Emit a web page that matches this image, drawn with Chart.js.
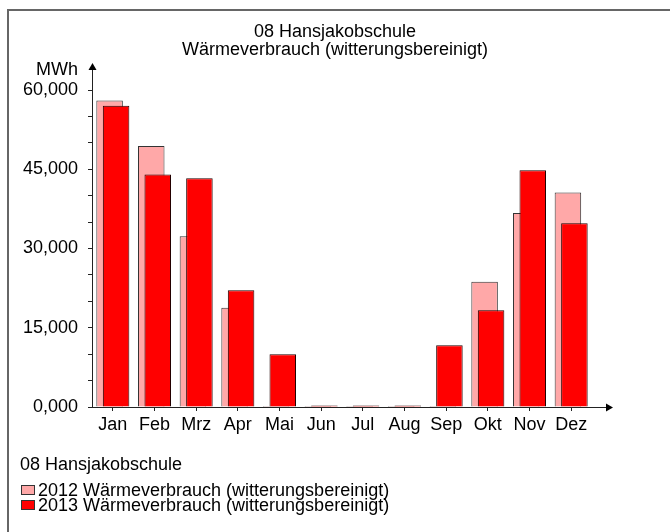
<!DOCTYPE html>
<html>
<head>
<meta charset="utf-8">
<script src="https://cdn.jsdelivr.net/npm/chart.js@4/dist/chart.umd.min.js"></script>
<style>
  html, body { margin: 0; padding: 0; background: #fff; }
  #wrap { width: 670px; height: 532px; }
</style>
</head>
<body>
<div id="wrap"><canvas id="chart" width="670" height="532"></canvas></div>
<script>
const months = ['Jan', 'Feb', 'Mrz', 'Apr', 'Mai', 'Jun', 'Jul', 'Aug', 'Sep', 'Okt', 'Nov', 'Dez'];
const heat2012 = [58.0, 49.4, 32.3, 18.8, 0.2, 0.2, 0.2, 0.2, 0.2, 23.7, 36.7, 40.6];
const heat2013 = [57.0, 44.0, 43.3, 22.1, 10.0, 0.3, 0.3, 0.3, 11.7, 18.3, 44.8, 34.8];
const yTickLabels = [0, 15, 30, 45, 60];
const titleLines = ['08 Hansjakobschule', 'Wärmeverbrauch (witterungsbereinigt)'];
const legendTitle = '08 Hansjakobschule';
const seriesNames = ['2012 Wärmeverbrauch (witterungsbereinigt)', '2013 Wärmeverbrauch (witterungsbereinigt)'];
const unitLabel = 'MWh';

const FONT = "'Liberation Sans', Arial, sans-serif";

// format like the original: 15,000 (German decimal comma, 3 places)
function fmt(v) {
    return v.toFixed(3).replace('.', ',');
}

// draw 2012 underneath 2013, but keep 2012 on the left of the group
const drawOrder = {
    id: 'drawOrder',
    beforeDatasetsDraw(chart) {
        chart.data.datasets.forEach((ds, i) => {
            const meta = chart.getDatasetMeta(i);
            if (!meta.hidden) meta.controller.draw();
        });
        return false;
    }
};

const decorations = {
    id: 'decorations',
    beforeDraw(chart) {
        const ctx = chart.ctx;
        ctx.save();
        ctx.fillStyle = '#fff';
        ctx.fillRect(0, 0, chart.width, chart.height);
        // frame (only top and left are in the picture)
        ctx.strokeStyle = '#666';
        ctx.lineWidth = 2;
        ctx.beginPath();
        ctx.moveTo(8, chart.height);
        ctx.lineTo(8, 10);
        ctx.lineTo(chart.width, 10);
        ctx.stroke();
        ctx.restore();
    },
    afterDraw(chart) {
        const ctx = chart.ctx;
        const a = chart.chartArea;
        ctx.save();
        ctx.strokeStyle = '#222';
        ctx.fillStyle = '#000';
        ctx.lineWidth = 1;

        // y axis with arrow
        const yTop = a.top - 26;
        ctx.beginPath();
        ctx.moveTo(a.left + 0.5, a.bottom);
        ctx.lineTo(a.left + 0.5, yTop + 4);
        ctx.stroke();
        ctx.beginPath();
        ctx.moveTo(a.left + 0.5, yTop - 1);
        ctx.lineTo(a.left - 3.5, yTop + 6);
        ctx.lineTo(a.left + 4.5, yTop + 6);
        ctx.closePath();
        ctx.fill();

        // x axis with arrow
        const xEnd = a.right + 20;
        ctx.beginPath();
        ctx.moveTo(a.left, a.bottom + 0.5);
        ctx.lineTo(xEnd - 4, a.bottom + 0.5);
        ctx.stroke();
        ctx.beginPath();
        ctx.moveTo(xEnd + 1, a.bottom + 0.5);
        ctx.lineTo(xEnd - 6, a.bottom - 3.5);
        ctx.lineTo(xEnd - 6, a.bottom + 4.5);
        ctx.closePath();
        ctx.fill();

        // unit
        ctx.font = '18px ' + FONT;
        ctx.textAlign = 'right';
        ctx.textBaseline = 'middle';
        ctx.fillText(unitLabel, a.left - 14, a.top - 20);

        // legend
        ctx.textAlign = 'left';
        ctx.fillText(legendTitle, 20, 465);
        chart.data.datasets.forEach((ds, i) => {
            const y = 485 + i * 15;
            ctx.fillStyle = ds.backgroundColor;
            ctx.fillRect(21, y, 14, 10);
            ctx.strokeStyle = '#333';
            ctx.strokeRect(21.5, y + 0.5, 13, 9);
            ctx.fillStyle = '#000';
            ctx.fillText(ds.label, 38, y + 6);
        });
        ctx.restore();
    }
};

const ctx = document.getElementById('chart');
new Chart(ctx, {
    type: 'bar',
    data: {
        labels: months,
        datasets: [
            {
                label: seriesNames[0],
                data: heat2012,
                backgroundColor: '#ffa8a8',
                borderColor: '#333',
                borderWidth: 1
            },
            {
                label: seriesNames[1],
                data: heat2013,
                backgroundColor: '#ff0000',
                borderColor: '#220000',
                borderWidth: 1
            }
        ]
    },
    options: {
        responsive: false,
        animation: false,
        categoryPercentage: 0.312,
        barPercentage: 4.08,
        layout: { padding: { left: 0, right: 0, top: 0, bottom: 95 } },
        plugins: {
            legend: { display: false },
            tooltip: { enabled: false },
            title: {
                display: true,
                text: titleLines,
                color: '#000',
                font: { family: FONT, size: 18, weight: 'normal', lineHeight: 1.0 },
                padding: { top: 23, bottom: 31 }
            }
        },
        scales: {
            x: {
                offset: true,
                border: { display: false },
                grid: { offset: false, drawOnChartArea: false, drawTicks: true, tickLength: 4, tickColor: '#222' },
                ticks: { color: '#000', padding: 3, font: { family: FONT, size: 18 } },
                afterFit(s) { s.height = 30; }
            },
            y: {
                min: 0,
                max: 60,
                border: { display: false },
                grid: { drawOnChartArea: false, drawTicks: true, tickLength: 4, tickColor: '#222' },
                ticks: {
                    stepSize: 5,
                    color: '#000',
                    padding: 10,
                    font: { family: FONT, size: 18 },
                    callback: (v) => yTickLabels.includes(v) ? fmt(v) : ''
                },
                afterFit(s) { s.width = 92; }
            },
            yRight: {
                position: 'right',
                min: 0,
                max: 60,
                border: { display: false },
                grid: { display: false },
                ticks: { display: false },
                afterFit(s) { s.width = 78; }
            }
        }
    },
    plugins: [drawOrder, decorations]
});
</script>
</body>
</html>
